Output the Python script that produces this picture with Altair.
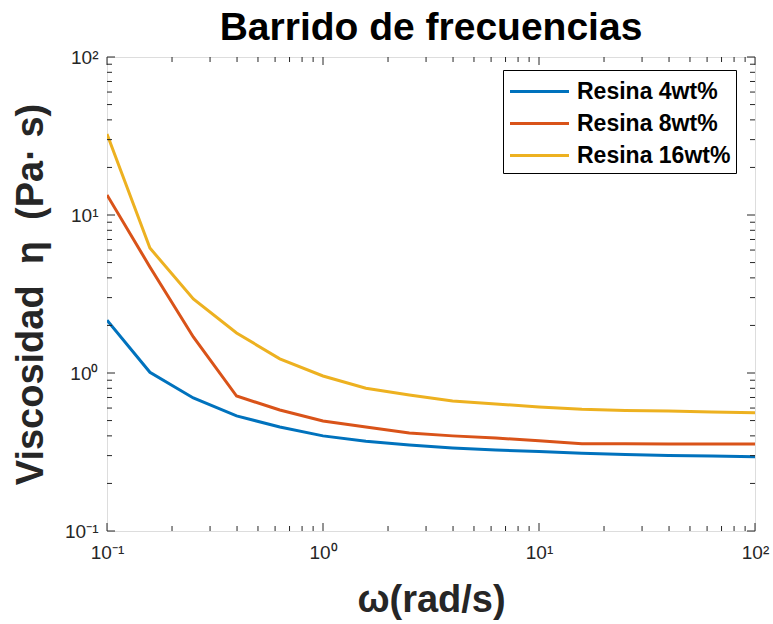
import altair as alt
import pandas as pd

omega = [0.1, 0.158, 0.251, 0.398, 0.631, 1.0, 1.58, 2.51, 3.98, 6.31,
         10.0, 15.8, 25.1, 39.8, 63.1, 100.0]
eta_4 = [2.16, 1.01, 0.695, 0.535, 0.455, 0.40, 0.37, 0.35, 0.335, 0.325,
         0.318, 0.31, 0.305, 0.30, 0.298, 0.295]
eta_8 = [13.4, 4.69, 1.69, 0.715, 0.583, 0.497, 0.455, 0.417, 0.40, 0.388,
         0.372, 0.356, 0.356, 0.355, 0.355, 0.355]
eta_16 = [32.6, 6.18, 2.94, 1.79, 1.23, 0.957, 0.80, 0.726, 0.665, 0.636,
          0.61, 0.59, 0.58, 0.574, 0.567, 0.56]
series = ["Resina 4wt%", "Resina 8wt%", "Resina 16wt%"]
colors = ["#0072BD", "#D95319", "#EDB120"]

major_ticks = [0.1, 1, 10, 100]
minor_ticks = [m * d for d in [0.1, 1, 10] for m in range(2, 10)]
tick_labels = ["10⁻¹", "10⁰", "10¹", "10²"]

rows = []
for name, vals in zip(series, [eta_4, eta_8, eta_16]):
    for w, e in zip(omega, vals):
        rows.append({"omega": w, "eta": e, "serie": name})
df = pd.DataFrame(rows)
df_major = pd.DataFrame({"v": major_ticks})
df_minor = pd.DataFrame({"v": minor_ticks})

W, H = 648, 474
FONT = "Liberation Sans"
xs = alt.Scale(type="log", domain=[0.1, 100])
ys = alt.Scale(type="log", domain=[0.1, 100])

label_expr = ("datum.value < 0.5 ? '" + tick_labels[0] + "' : datum.value < 5 ? '" + tick_labels[1]
              + "' : datum.value < 50 ? '" + tick_labels[2] + "' : '" + tick_labels[3] + "'")

xaxis = alt.Axis(values=major_ticks, labelExpr=label_expr, title="ω(rad/s)",
                 grid=False, ticks=False, domain=False, labelFontSize=19,
                 labelPadding=12, titleFontSize=38, titleFontWeight="bold",
                 titlePadding=19, labelFont=FONT, titleFont=FONT,
                 labelColor="#262626", titleColor="#262626", labelFlush=False)
yaxis = alt.Axis(values=major_ticks, labelExpr=label_expr,
                 title="Viscosidad\u00a0\u00a0η\u00a0\u00a0(Pa·\u00a0s)",
                 grid=False, ticks=False, domain=False, labelFontSize=19,
                 labelPadding=9, titleFontSize=38, titleFontWeight="bold",
                 titlePadding=14, labelFont=FONT, titleFont=FONT,
                 labelColor="#262626", titleColor="#262626", labelFlush=False)

lines = alt.Chart(df).mark_line(strokeWidth=3, clip=True).encode(
    x=alt.X("omega:Q", scale=xs, axis=xaxis),
    y=alt.Y("eta:Q", scale=ys, axis=yaxis),
    color=alt.Color("serie:N", scale=alt.Scale(domain=series, range=colors),
                    legend=alt.Legend(title=None, orient="none", legendX=396, legendY=13,
                                      symbolType="M-2,0H2", symbolSize=870,
                                      symbolStrokeWidth=3, symbolOffset=15,
                                      labelOffset=21, labelFontSize=23,
                                      labelFontWeight="bold", labelFont=FONT,
                                      labelColor="black",
                                      strokeColor="black", fillColor="white",
                                      padding=5, rowPadding=3)),
    order=alt.Order("omega:Q"),
)

def xticks(data, y0, y1):
    return alt.Chart(data).mark_rule(color="#262626", strokeWidth=1).encode(
        x=alt.X("v:Q", scale=xs, axis=xaxis),
        y=alt.value(y0), y2=alt.value(y1))

def yticks(data, x0, x1):
    return alt.Chart(data).mark_rule(color="#262626", strokeWidth=1).encode(
        y=alt.Y("v:Q", scale=ys, axis=yaxis),
        x=alt.value(x0), x2=alt.value(x1))

MJ, MN = 8, 5
ticks = [
    xticks(df_major, H, H - MJ), xticks(df_minor, H, H - MN),
    xticks(df_major, 0, MJ), xticks(df_minor, 0, MN),
    yticks(df_major, 0, MJ), yticks(df_minor, 0, MN),
    yticks(df_major, W, W - MJ), yticks(df_minor, W, W - MN),
]

chart = alt.layer(lines, *ticks).properties(
    width=W, height=H,
    title=alt.TitleParams("Barrido de frecuencias", fontSize=39, fontWeight="bold",
                          font=FONT, color="black", offset=0, anchor="middle"),
    autosize=alt.AutoSizeParams(type="none"),
    padding={"left": 107, "top": 57, "right": 18, "bottom": 93},
).configure_view(stroke="#262626", strokeWidth=1).configure(background="white")

chart.save("out.html", embed_options={"renderer": "svg", "actions": False})
